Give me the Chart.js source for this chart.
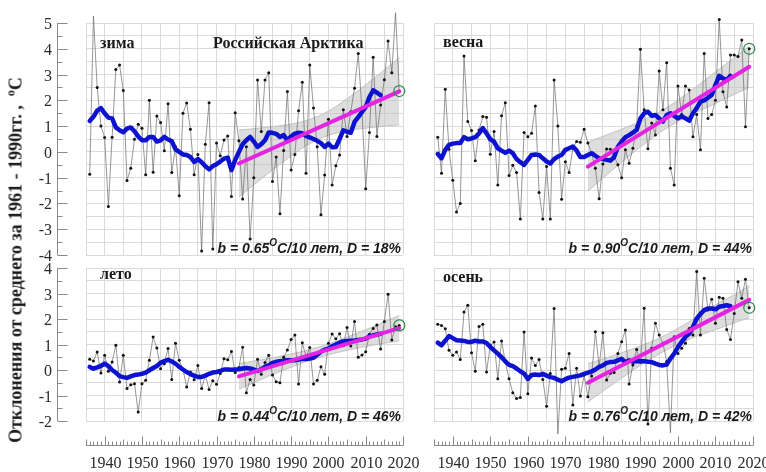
<!DOCTYPE html>
<html>
<head>
<meta charset="utf-8">
<script src="https://cdn.jsdelivr.net/npm/chart.js@4.4.0/dist/chart.umd.min.js"></script>
<style>
  body { margin: 0; background: #fff; }
  #wrap { position: relative; width: 766px; height: 472px; overflow: hidden; font-family: 'Liberation Serif', 'Times New Roman', serif; color: #1a1a1a; }
  canvas { position: absolute; left: 0; top: 0; }
  .lbl { position: absolute; font-weight: bold; font-size: 16px; white-space: nowrap; line-height: 18px; z-index: 5; }
  .stat { position: absolute; font-family: 'Liberation Sans', Arial, sans-serif; font-style: italic; font-weight: bold; font-size: 14px; white-space: nowrap; transform: translate(-100%, -50%); z-index: 5; }
  .stat sup { font-size: 10px; position: relative; top: -1px; }
  #ytitle { position: absolute; left: 15px; top: 260px; transform: translate(-50%, -50%) rotate(-90deg); font-weight: bold; font-size: 18px; white-space: nowrap; z-index: 5; }
  #ytitle sup { font-size: 12px; }
</style>
</head>
<body>
<div id="wrap">
  <canvas id="c1" width="766" height="472"></canvas>
  <canvas id="c2" width="766" height="472"></canvas>
  <canvas id="c3" width="766" height="472"></canvas>
  <canvas id="c4" width="766" height="472"></canvas>
  <div id="ytitle">Отклонения от среднего за 1961 - 1990гг. ,&nbsp; <sup>o</sup>С</div>
  <div class="lbl" style="left:100px;top:34px">зима</div>
  <div class="lbl" style="left:213px;top:34px">Российская Арктика</div>
  <div class="lbl" style="left:443px;top:33px">весна</div>
  <div class="lbl" style="left:100px;top:265px">лето</div>
  <div class="lbl" style="left:443px;top:268px">осень</div>
  <div class="stat" style="left:401px;top:247px">b = 0.65<sup>O</sup>C/10 лет, D = 18%</div>
  <div class="stat" style="left:752px;top:247px">b = 0.90<sup>O</sup>C/10 лет, D = 44%</div>
  <div class="stat" style="left:401px;top:415px">b = 0.44<sup>O</sup>C/10 лет, D = 46%</div>
  <div class="stat" style="left:752px;top:415px">b = 0.76<sup>O</sup>C/10 лет, D = 42%</div>
</div>
<script>
// years of observations 1936..2019, smoothed curve 1936..2014
const years = Array.from({ length: 84 }, (_, i) => 1936 + i);
const smoothYears = years.slice(0, 79);
const trendYears = [1976, 2019];
const bandYears = [1976, 1980, 1985, 1990, 1995, 2000, 2005, 2010, 2015, 2019];

// зима
const winter = [-0.87, 5.27, 2.5, 1.0, 0.56, -2.12, 0.57, 3.2, 3.37, 2.38,
  -1.11, -0.63, 0.49, 1.07, 0.92, -0.89, 2.0, -0.79, 1.39, 1.14,
  0.04, 1.87, -0.8, 0.2, -1.7, 1.5, 1.9, 0.88, -0.89, -0.1,
  -3.84, 0.3, 1.91, -3.77, 0.34, -0.15, 0.46, 0.62, -1.73, 1.52,
  0.43, -1.83, 0.2, -3.38, -1.0, 2.79, 0.79, 2.79, 3.07, -1.15,
  -0.2, -2.4, 0.05, 2.34, -0.7, -0.1, 1.6, 2.7, -0.83, 3.37,
  1.7, 0.2, -2.44, -0.9, 1.27, -1.28, -0.54, -0.12, 1.63, 0.6,
  1.56, 2.47, 3.82, 1.6, -1.43, 0.75, 3.67, 0.6, 1.82, 2.8,
  4.3, 3.07, 5.4, 2.36];
const winterSmooth = [1.2, 1.36, 1.6, 1.7, 1.5, 1.33, 1.3, 0.95, 0.84, 0.76,
  0.9, 0.95, 0.8, 0.6, 0.45, 0.45, 0.58, 0.58, 0.4, 0.45,
  0.58, 0.48, 0.42, 0.1, 0.0, -0.1, -0.12, -0.2, -0.39, -0.28,
  -0.4, -0.55, -0.68, -0.55, -0.48, -0.37, -0.26, -0.22, -0.71, -0.32,
  0.0, 0.3, 0.45, 0.58, 0.4, 0.19, 0.3, 0.45, 0.75, 0.74,
  0.7, 0.58, 0.65, 0.45, 0.6, 0.71, 0.74, 0.72, 0.62, 0.56,
  0.5, 0.43, 0.34, 0.19, 0.32, 0.18, 0.19, 0.5, 0.84, 0.78,
  0.74, 1.16, 1.35, 1.55, 1.74, 2.13, 2.39, 2.3, 2.2];
const winterTrend = [-0.45, 2.35];
const winterUpper = [0.85, 0.9, 0.98, 1.08, 1.26, 1.58, 2.06, 2.6, 3.18, 3.65];
const winterLower = [-1.75, -1.28, -0.7, -0.16, 0.32, 0.64, 0.82, 0.92, 1.0, 1.05];

// весна
const spring = [0.57, -0.83, 2.43, 0.1, -1.1, -2.33, -2.0, 3.72, 1.18, 0.83,
  -0.34, 0.85, 1.37, 1.34, -0.09, 0.79, -1.28, 1.4, 1.91, -0.92,
  -0.52, -0.8, -2.6, 0.75, 0.59, 0.72, 1.78, -1.58, -2.6, -0.57,
  -2.6, 2.79, 1.0, -1.84, -0.38, -0.8, 0.14, 0.4, 0.37, 0.88,
  0.34, -0.05, -0.63, -1.82, -0.47, 0.11, 0.1, -0.18, -0.5, -1.0,
  0.08, -0.44, 0.14, 1.0, 3.98, 1.63, 0.12, 1.12, 0.66, 3.14,
  1.63, 3.46, -0.63, -1.28, 2.56, 1.45, 2.56, 2.4, 0.59, 1.45,
  0.08, 3.82, 1.3, 1.45, 2.0, 5.14, 2.33, 1.74, 3.76, 3.76,
  3.7, 4.34, 0.98, 4.0];
const springSmooth = [-0.08, -0.25, 0.08, 0.27, 0.32, 0.34, 0.34, 0.57, 0.49, 0.52,
  0.57, 0.72, 0.92, 0.72, 0.49, 0.4, 0.14, 0.05, -0.03, 0.05,
  -0.05, -0.28, -0.4, -0.5, -0.31, -0.12, -0.1, -0.12, -0.25, -0.37,
  -0.45, -0.28, -0.18, -0.12, 0.08, 0.14, 0.21, 0.05, -0.2, -0.2,
  -0.12, -0.05, -0.15, -0.25, -0.28, -0.31, -0.34, -0.2, 0.2, 0.4,
  0.57, 0.65, 0.75, 0.85, 1.3, 1.5, 1.56, 1.4, 1.43, 1.3,
  1.18, 1.43, 1.5, 1.4, 1.3, 1.38, 1.3, 1.21, 1.5, 1.7,
  1.95, 2.0, 2.1, 2.21, 2.6, 2.95, 2.85, 2.79, 2.95];
const springTrend = [-0.57, 3.3];
const springUpper = [0.38, 0.6, 0.88, 1.19, 1.55, 2.0, 2.54, 3.1, 3.65, 4.1];
const springLower = [-1.52, -1.02, -0.4, 0.19, 0.73, 1.18, 1.54, 1.88, 2.23, 2.5];

// лето
const summer = [0.42, 0.35, 0.71, -0.12, 0.58, -0.05, 0.31, 0.97, -0.47, 0.58,
  -0.73, -0.58, -0.54, -1.65, -0.54, -0.4, 0.38, 1.29, 0.86, 0.05,
  0.25, 0.84, -0.37, 1.05, 0.38, 0.03, -0.67, -0.08, -0.38, 0.18,
  -0.73, -0.21, -0.76, -0.42, -0.56, -0.14, 0.44, 0.4, 0.73, -0.1,
  0.1, 0.89, -0.89, -0.37, -0.59, 0.42, -0.17, 0.29, 0.58, -0.2,
  -0.46, -0.5, 0.5, 0.78, 1.2, 1.37, -0.55, 1.07, 0.52, 0.88,
  -0.55, -0.4, 0.13, -0.17, 1.05, 1.41, 1.23, 1.42, 0.95, 1.67,
  0.94, 1.9, 0.5, 0.59, 0.72, 1.4, 1.63, 1.76, 0.82, 1.9,
  2.97, 1.18, 1.7, 1.75];
const summerSmooth = [0.12, 0.05, 0.1, 0.16, 0.25, 0.15, 0.0, -0.1, -0.24, -0.28,
  -0.31, -0.25, -0.2, -0.18, -0.15, -0.1, -0.01, 0.08, 0.16, 0.28,
  0.35, 0.4, 0.33, 0.25, 0.12, 0.02, -0.08, -0.16, -0.22, -0.27,
  -0.27, -0.22, -0.15, -0.1, -0.08, -0.04, 0.02, 0.02, 0.01, 0.02,
  0.03, 0.06, 0.08, 0.06, 0.02, -0.04, 0.03, 0.12, 0.18, 0.28,
  0.32, 0.34, 0.36, 0.38, 0.38, 0.38, 0.41, 0.44, 0.43, 0.45,
  0.48, 0.6, 0.72, 0.8, 0.84, 0.93, 1.0, 1.07, 1.12, 1.14,
  1.15, 1.16, 1.18, 1.2, 1.23, 1.32, 1.36, 1.39, 1.42];
const summerTrend = [-0.25, 1.64];
const summerUpper = [0.25, 0.35, 0.48, 0.63, 0.8, 1.02, 1.29, 1.58, 1.89, 2.14];
const summerLower = [-0.75, -0.49, -0.18, 0.11, 0.38, 0.6, 0.77, 0.92, 1.05, 1.14];

// осень
const autumn = [1.79, 1.75, 1.62, 0.77, 0.58, 0.71, 0.41, 2.27, 2.54, 0.68,
  -0.05, 1.71, 1.79, -0.08, 0.97, 1.1, -0.34, 1.14, 0.31, -0.34,
  -0.89, -1.12, -1.08, 1.49, -0.93, 0.47, 0.18, 0.41, -0.37, -1.42,
  -0.14, 2.41, -2.51, 0.03, 0.07, 0.65, -1.37, 0.07, -1.02, -0.2,
  -1.05, -0.24, 1.5, 0.13, 1.46, -0.39, -0.13, -0.1, 0.65, 1.11,
  1.57, -0.55, 0.2, 0.8, 0.3, 2.42, -2.12, 0.85, 1.83, 1.37,
  1.05, 0.33, -2.46, 1.3, 0.65, 0.85, 1.05, 1.63, 1.37, 3.86,
  1.37, 3.6, 2.35, 2.77, 1.83, 2.85, 2.81, 1.59, 1.2, 2.22,
  3.46, 2.81, 3.56, 2.44];
const autumnSmooth = [1.07, 0.97, 1.15, 1.33, 1.25, 1.17, 1.16, 1.14, 1.1, 1.1,
  1.15, 1.12, 1.12, 1.06, 0.9, 0.77, 0.64, 0.5, 0.34, 0.2,
  0.15, 0.06, -0.05, -0.14, -0.35, -0.2, -0.18, -0.2, -0.15, -0.22,
  -0.28, -0.31, -0.38, -0.44, -0.36, -0.3, -0.27, -0.24, -0.21, -0.15,
  -0.1, -0.06, 0.02, 0.12, 0.18, 0.28, 0.31, 0.32, 0.38, 0.44,
  0.3, 0.38, 0.33, 0.34, 0.35, 0.34, 0.32, 0.31, 0.25, 0.2,
  0.18, 0.21, 0.45, 0.64, 0.9, 1.1, 1.3, 1.42, 1.69, 2.01,
  2.2, 2.35, 2.41, 2.41, 2.38, 2.48, 2.51, 2.54, 2.5];
const autumnTrend = [-0.5, 2.75];
const autumnUpper = [0.25, 0.43, 0.68, 0.94, 1.25, 1.63, 2.08, 2.55, 2.95, 3.3];
const autumnLower = [-1.25, -0.83, -0.32, 0.18, 0.63, 1.01, 1.32, 1.58, 1.85, 2.05];

const pts = (xs, ys) => ys.map((v, i) => ({ x: xs[i], y: v }));

// left value axis and bottom year ruler, drawn from the chart's own scales
const sideAxes = {
  id: 'sideAxes',
  afterDraw(chart, args, opts) {
    const ctx = chart.ctx, sx = chart.scales.x, sy = chart.scales.y;
    ctx.save();
    ctx.strokeStyle = '#8a8a8a';
    ctx.fillStyle = '#2a2a2a';
    ctx.lineWidth = 1;
    if (opts.left) {
      const ax = 57.5;
      ctx.beginPath();
      ctx.moveTo(ax, sy.top);
      ctx.lineTo(ax, sy.bottom);
      ctx.stroke();
      ctx.font = "16px 'Liberation Serif', serif";
      ctx.textAlign = 'right';
      ctx.textBaseline = 'middle';
      for (let v = sy.min; v <= sy.max + 1e-9; v += 0.5) {
        const py = Math.round(sy.getPixelForValue(v)) + 0.5;
        const major = Math.abs(v - Math.round(v)) < 1e-6;
        ctx.beginPath();
        ctx.moveTo(ax, py);
        ctx.lineTo(ax + (major ? 10 : 5), py);
        ctx.stroke();
        if (major) ctx.fillText(String(Math.round(v)), 52, py + 1);
      }
    }
    if (opts.bottom) {
      const by = 445.5;
      ctx.beginPath();
      ctx.moveTo(sx.left, by);
      ctx.lineTo(sx.right, by);
      ctx.stroke();
      ctx.font = "16px 'Liberation Serif', serif";
      ctx.textAlign = 'center';
      ctx.textBaseline = 'middle';
      for (let yr = sx.min; yr <= sx.max; yr++) {
        const px = Math.round(sx.getPixelForValue(yr)) + 0.5;
        const len = yr % 10 === 0 ? 9 : (yr % 5 === 0 ? 6 : 4);
        ctx.beginPath();
        ctx.moveTo(px, by);
        ctx.lineTo(px, by - len);
        ctx.stroke();
        if (yr % 10 === 0) ctx.fillText(String(yr), px, 464);
      }
    }
    ctx.restore();
  }
};

function panel(id, area, yMin, yMax, obs, smooth, trend, upper, lower, axes) {
  const last = obs[obs.length - 1];
  return new Chart(document.getElementById(id), {
    type: 'line',
    data: {
      datasets: [
        {
          data: [{ x: years[years.length - 1], y: last }],
          showLine: false, pointRadius: 5.5, pointBorderWidth: 1.2,
          pointBorderColor: '#2f8a4a', pointBackgroundColor: 'rgba(0,0,0,0)', clip: false
        },
        {
          data: pts(trendYears, trend),
          borderColor: '#e424e0', borderWidth: 4, pointRadius: 0, borderCapStyle: 'round'
        },
        {
          data: pts(smoothYears, smooth),
          borderColor: '#0c12d0', borderWidth: 4.5, pointRadius: 0,
          borderJoinStyle: 'round', borderCapStyle: 'round'
        },
        {
          data: pts(years, obs),
          borderColor: '#6a6a6a', borderWidth: 0.7, pointRadius: 1.5, pointBorderWidth: 0,
          pointBackgroundColor: '#111', clip: false
        },
        {
          data: pts(bandYears, upper),
          borderColor: '#c2c2c2', borderWidth: 1, pointRadius: 0, tension: 0.4,
          fill: '+1', backgroundColor: 'rgba(195,195,195,0.55)'
        },
        {
          data: pts(bandYears, lower),
          borderColor: '#c2c2c2', borderWidth: 1, pointRadius: 0, tension: 0.4
        }
      ]
    },
    options: {
      responsive: false,
      animation: false,
      events: [],
      layout: { padding: { left: area[0], top: area[1], right: 766 - area[2], bottom: 472 - area[3] } },
      plugins: { legend: { display: false }, tooltip: { enabled: false }, sideAxes: axes },
      scales: {
        x: {
          type: 'linear', min: 1935, max: 2020,
          ticks: { display: false, stepSize: 5 },
          grid: { color: '#dadada', drawTicks: false },
          border: { display: false }
        },
        y: {
          type: 'linear', min: yMin, max: yMax,
          ticks: { display: false, stepSize: 0.5 },
          grid: { color: '#dadada', drawTicks: false },
          border: { display: false }
        }
      }
    },
    plugins: [sideAxes]
  });
}

panel('c1', [86, 23, 403, 255], -4, 5, winter, winterSmooth, winterTrend, winterUpper, winterLower, { left: true, bottom: false });
panel('c2', [434, 23, 753, 255], -4, 5, spring, springSmooth, springTrend, springUpper, springLower, { left: false, bottom: false });
panel('c3', [86, 268, 403, 421], -2, 4, summer, summerSmooth, summerTrend, summerUpper, summerLower, { left: true, bottom: true });
panel('c4', [434, 268, 753, 421], -2, 4, autumn, autumnSmooth, autumnTrend, autumnUpper, autumnLower, { left: false, bottom: true });
</script>
</body>
</html>
